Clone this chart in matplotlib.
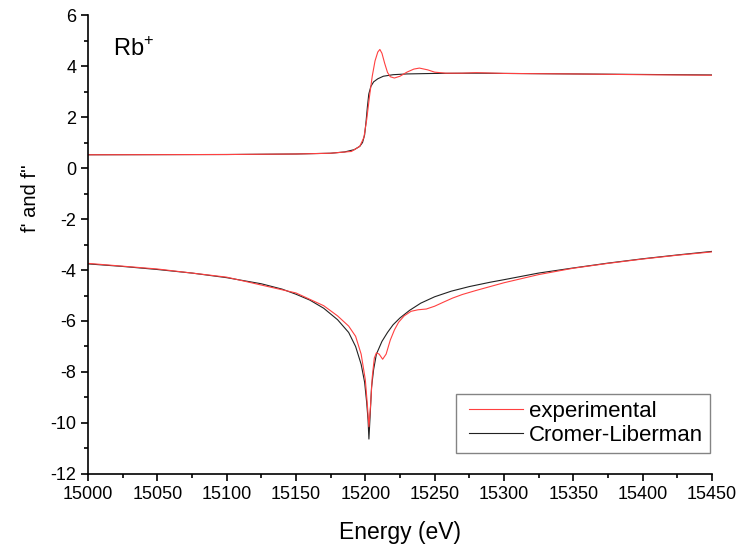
import matplotlib
matplotlib.use("Agg")
import matplotlib.pyplot as plt
from matplotlib.ticker import MultipleLocator
from matplotlib.legend_handler import HandlerLine2D

plt.rcParams['font.family'] = ['Liberation Sans', 'DejaVu Sans']
plt.rcParams['mathtext.fontset'] = 'custom'
plt.rcParams['mathtext.rm'] = 'Liberation Sans'
plt.rcParams['axes.unicode_minus'] = False

# f' (lower curves)
e_fp_cl = [15000, 15025, 15050, 15075, 15100, 15125, 15140, 15150, 15160, 15170,
           15180, 15188, 15193, 15197, 15199.5, 15201, 15202, 15202.6, 15203.3,
           15204.5, 15206, 15208, 15212, 15216, 15220, 15225, 15232, 15240, 15250,
           15262, 15275, 15290, 15300, 15325, 15350, 15375, 15400, 15425, 15450]
fp_cl = [-3.76, -3.86, -3.98, -4.12, -4.3, -4.54, -4.75, -4.95, -5.18, -5.5,
         -5.95, -6.45, -7.0, -7.7, -8.4, -9.2, -9.9, -10.63, -9.9,
         -8.6, -7.9, -7.3, -6.8, -6.45, -6.15, -5.88, -5.58, -5.3, -5.05,
         -4.83, -4.65, -4.48, -4.38, -4.12, -3.92, -3.73, -3.56, -3.41, -3.27]

e_fp_exp = [15000, 15050, 15100, 15150, 15170, 15180, 15188, 15193, 15197, 15200,
            15201.5, 15202.6, 15203.8, 15205, 15206.5, 15208, 15210, 15212.5, 15215,
            15218, 15221, 15224, 15228, 15233, 15238, 15244, 15250, 15256, 15263,
            15270, 15280, 15290, 15300, 15325, 15350, 15375, 15400, 15425, 15450]
fp_exp = [-3.74, -3.96, -4.28, -4.9, -5.4, -5.8, -6.2, -6.6, -7.3, -8.3,
          -9.3, -10.15, -9.3, -8.2, -7.45, -7.25, -7.3, -7.5, -7.3,
          -6.75, -6.35, -6.05, -5.8, -5.62, -5.56, -5.53, -5.42, -5.27, -5.1,
          -4.96, -4.8, -4.65, -4.5, -4.18, -3.93, -3.74, -3.57, -3.42, -3.29]

# f'' (upper curves)
e_fpp_cl = [15000, 15100, 15150, 15175, 15185, 15192, 15196, 15198, 15199.5,
            15200.5, 15201.5, 15202.5, 15204, 15206, 15209, 15213, 15220, 15230,
            15250, 15280, 15300, 15350, 15400, 15450]
fpp_cl = [0.52, 0.53, 0.55, 0.58, 0.63, 0.72, 0.85, 1.0, 1.3,
          1.8, 2.4, 2.9, 3.2, 3.38, 3.5, 3.6, 3.66, 3.69,
          3.71, 3.72, 3.71, 3.69, 3.67, 3.65]

e_fpp_exp = [15000, 15100, 15150, 15175, 15190, 15196, 15199, 15201, 15203, 15205,
             15207, 15209, 15210.5, 15212, 15214, 15216, 15218, 15221, 15225,
             15230, 15235, 15239, 15245, 15250, 15258, 15270, 15280, 15300,
             15350, 15400, 15450]
fpp_exp = [0.52, 0.53, 0.55, 0.58, 0.65, 0.85, 1.2, 1.9, 2.8, 3.6,
           4.2, 4.55, 4.65, 4.5, 4.1, 3.75, 3.58, 3.53, 3.6,
           3.76, 3.88, 3.92, 3.85, 3.76, 3.72, 3.72, 3.74, 3.71,
           3.69, 3.66, 3.64]

fig = plt.figure(figsize=(7.5, 5.47), dpi=100)
ax = fig.add_axes([0.1173, 0.1335, 0.832, 0.839])

red = '#ff4040'
dark = '#222222'
ax.plot(e_fp_cl, fp_cl, color=dark, lw=0.8)
ax.plot(e_fpp_cl, fpp_cl, color=dark, lw=0.8)
ax.plot(e_fp_exp, fp_exp, color=red, lw=0.8, label='experimental')
ax.plot(e_fpp_exp, fpp_exp, color=red, lw=0.8)
ax.plot([], [], color=dark, lw=0.8, label='Cromer-Liberman')

ax.set_xlim(15000, 15450)
ax.set_ylim(-12, 6)
ax.xaxis.set_major_locator(MultipleLocator(50))
ax.xaxis.set_minor_locator(MultipleLocator(25))
ax.yaxis.set_major_locator(MultipleLocator(2))
ax.yaxis.set_minor_locator(MultipleLocator(1))
ax.spines['top'].set_visible(False)
ax.spines['right'].set_visible(False)
for s in ('left', 'bottom'):
    ax.spines[s].set_linewidth(1.2)
ax.tick_params(which='major', direction='out', length=5, width=1.2, labelsize=13)
ax.tick_params(which='minor', direction='out', length=3, width=1.2)

ax.set_xlabel('Energy (eV)', fontsize=16.5, labelpad=13)
ax.set_ylabel("f' and f''", fontsize=14.5)
ax.yaxis.set_label_coords(-0.077, 0.6)

ax.text(0.04, 0.91, 'Rb$^{+}$', transform=ax.transAxes, fontsize=17)

# legend lines start a bit in from the frame, like the original
leg = ax.legend(loc='lower right', bbox_to_anchor=(0.997, 0.046), fontsize=16,
                frameon=True, fancybox=False, edgecolor='#666666', numpoints=2,
                handler_map={plt.Line2D: HandlerLine2D(marker_pad=0.3)},
                handlelength=3.0, handletextpad=0.0, borderpad=0.3,
                labelspacing=0.15, borderaxespad=0)
leg.get_frame().set_linewidth(1.0)

fig.savefig('out.png', dpi=100)
